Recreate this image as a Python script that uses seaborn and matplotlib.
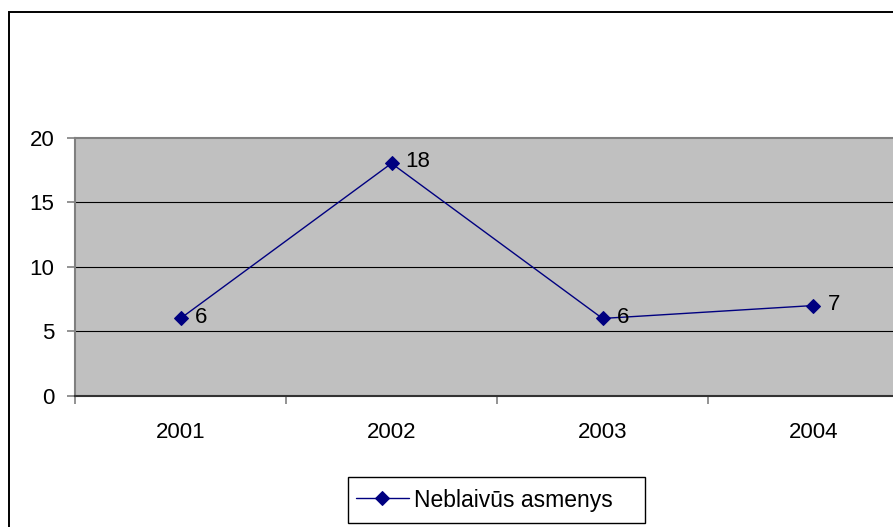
import pandas as pd
import matplotlib
matplotlib.use("Agg")
import matplotlib.pyplot as plt
import matplotlib.patches as patches
import seaborn as sns

years = ['2001', '2002', '2003', '2004']
values = [6, 18, 6, 7]
series_name = 'Neblaivūs asmenys'

sns.set_style("white")
plt.rcParams['font.family'] = ['Liberation Sans', 'DejaVu Sans']
plt.rcParams['text.color'] = 'black'
plt.rcParams['xtick.labelcolor'] = 'black'
plt.rcParams['ytick.labelcolor'] = 'black'

df = pd.DataFrame({'Metai': years, 'Kiekis': values})

W, H = 893, 527
fig = plt.figure(figsize=(W / 100, H / 100), dpi=100)
# plot area runs a bit past the right edge, like the original screenshot
ax = fig.add_axes([75 / W, (H - 396) / H, (919 - 75) / W, (396 - 137.5) / H])

sns.pointplot(data=df, x='Metai', y='Kiekis', ax=ax, color='#000080',
              marker='D', markersize=7, linewidth=1.0, label=series_name)
if ax.get_legend() is not None:
    ax.get_legend().remove()

ax.set_facecolor('#C0C0C0')
ax.set_xlim(-0.5, len(years) - 0.5)
ax.set_ylim(0, 20)
ax.set_yticks([0, 5, 10, 15, 20])
ax.set_xlabel('')
ax.set_ylabel('')

# grid lines
for v in [5, 10, 15]:
    ax.axhline(v, color='black', lw=0.8, zorder=0.5)

# category ticks between the groups
ax.set_xticks([i - 0.5 for i in range(len(years) + 1)], minor=True)
ax.tick_params(axis='x', which='major', length=0, pad=19, labelsize=16)
ax.tick_params(axis='x', which='minor', length=6, width=1.2, color='#808080',
               direction='out', bottom=True)
ax.tick_params(axis='y', length=6, width=1.2, color='#808080', pad=9,
               labelsize=16, left=True)

for s in ['top', 'left']:
    ax.spines[s].set_color('#808080')
    ax.spines[s].set_linewidth(1.5)
ax.spines['bottom'].set_color('#333333')
ax.spines['bottom'].set_linewidth(1.5)
ax.spines['right'].set_visible(False)

# data labels
for i, v in enumerate(values):
    ax.annotate(str(v), (i, v), xytext=(10, 1), textcoords='offset points',
                ha='left', va='center', fontsize=16)

# legend (Excel-style box is wider on the right, so draw the box separately)
handles, labels = ax.get_legend_handles_labels()
leg = fig.legend(handles[:1], labels[:1], loc='center left',
                 bbox_to_anchor=(356 / W, (H - 500) / H),
                 fontsize=16.5, frameon=False, handlelength=2.3,
                 borderpad=0, handletextpad=0.25, borderaxespad=0)
box = patches.Rectangle((348 / W, (H - 523) / H), (645 - 348) / W, 46 / H,
                        transform=fig.transFigure, fill=False,
                        edgecolor='black', lw=1.0)
fig.patches.append(box)

# outer chart border
border = patches.Rectangle((9 / W, -0.05), 1.2, 1 - 12 / H + 0.05,
                           transform=fig.transFigure, fill=False,
                           edgecolor='black', lw=1.4, clip_on=False)
fig.patches.append(border)

fig.savefig('out.png', dpi=100)
